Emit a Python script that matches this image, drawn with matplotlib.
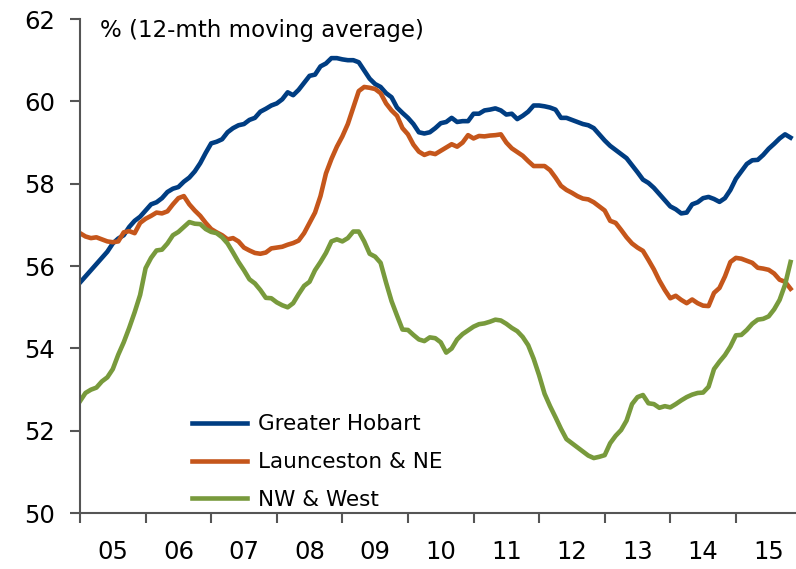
import numpy as np
import matplotlib
matplotlib.use("Agg")
import matplotlib.pyplot as plt

plt.rcParams['font.family'] = ['DejaVu Sans']

# monthly, Jan 2005 .. Nov 2015 (12-mth moving average, %)
years = ['05', '06', '07', '08', '09', '10', '11', '12', '13', '14', '15']

hobart = [55.6, 55.75, 55.9, 56.05, 56.2, 56.35, 56.55, 56.67, 56.75, 56.95, 57.1, 57.2,
          57.35, 57.5, 57.55, 57.65, 57.8, 57.88, 57.92, 58.05, 58.15, 58.3, 58.5, 58.75,
          58.98, 59.02, 59.08, 59.25, 59.35, 59.42, 59.45, 59.55, 59.6, 59.75, 59.82, 59.9,
          59.95, 60.05, 60.22, 60.15, 60.28, 60.45, 60.62, 60.65, 60.85, 60.92, 61.05, 61.05,
          61.02, 61.0, 61.0, 60.95, 60.75, 60.55, 60.42, 60.35, 60.2, 60.1, 59.85, 59.72,
          59.6, 59.45, 59.25, 59.22, 59.25, 59.35, 59.47, 59.5, 59.6, 59.5, 59.52, 59.52,
          59.7, 59.7, 59.78, 59.8, 59.83, 59.78, 59.68, 59.7, 59.57, 59.65, 59.75, 59.9,
          59.9, 59.88, 59.85, 59.8, 59.6, 59.6, 59.55, 59.5, 59.45, 59.42, 59.35, 59.2,
          59.05, 58.92, 58.82, 58.72, 58.62, 58.45, 58.28, 58.1, 58.02, 57.9, 57.75, 57.6,
          57.45, 57.38, 57.28, 57.3, 57.5, 57.55, 57.65, 57.68, 57.63, 57.56, 57.65, 57.85,
          58.12, 58.3, 58.48, 58.57, 58.58, 58.7, 58.85, 58.97, 59.1, 59.2, 59.12]

launceston = [56.8, 56.72, 56.68, 56.7, 56.65, 56.6, 56.58, 56.6, 56.82, 56.85, 56.8, 57.05,
              57.15, 57.22, 57.3, 57.28, 57.33, 57.5, 57.65, 57.7, 57.5, 57.35, 57.22, 57.05,
              56.9, 56.82, 56.75, 56.65, 56.68, 56.6, 56.45, 56.38, 56.32, 56.3, 56.33, 56.43,
              56.45, 56.47, 56.52, 56.56, 56.62, 56.8, 57.05, 57.3, 57.7, 58.25, 58.6, 58.9,
              59.15, 59.45, 59.85, 60.25, 60.35, 60.33, 60.3, 60.2, 59.95, 59.78, 59.65, 59.35,
              59.2, 58.95, 58.78, 58.7, 58.75, 58.72, 58.8, 58.88, 58.96, 58.9, 59.0, 59.18,
              59.1, 59.16, 59.15, 59.17, 59.18, 59.2, 59.0, 58.86, 58.77, 58.68, 58.55, 58.43,
              58.43, 58.43, 58.33, 58.15, 57.95, 57.85, 57.78, 57.7, 57.64, 57.62, 57.55, 57.45,
              57.35, 57.1, 57.05, 56.88, 56.7, 56.55, 56.45, 56.37, 56.15, 55.92, 55.65, 55.42,
              55.22, 55.28, 55.18, 55.1, 55.19, 55.1, 55.04, 55.03, 55.35, 55.47, 55.75, 56.1,
              56.2, 56.18, 56.13, 56.08, 55.96, 55.94, 55.91, 55.82, 55.67, 55.62, 55.45]

nw_west = [52.72, 52.92, 53.0, 53.05, 53.2, 53.3, 53.5, 53.85, 54.15, 54.5, 54.88, 55.3,
           55.95, 56.2, 56.38, 56.4, 56.55, 56.75, 56.83, 56.95, 57.07, 57.03, 57.02, 56.9,
           56.83, 56.8, 56.7, 56.55, 56.33, 56.1, 55.9, 55.68, 55.58, 55.42, 55.23, 55.22,
           55.12, 55.05, 55.0, 55.1, 55.32, 55.52, 55.62, 55.9, 56.1, 56.32, 56.6, 56.65,
           56.6, 56.68, 56.84, 56.84, 56.6, 56.3, 56.23, 56.08, 55.6, 55.15, 54.8, 54.46,
           54.45, 54.33, 54.22, 54.18, 54.27, 54.25, 54.15, 53.9, 54.0, 54.22, 54.35, 54.44,
           54.53, 54.59, 54.61, 54.65, 54.7, 54.68, 54.6, 54.5, 54.42, 54.28, 54.08, 53.75,
           53.35, 52.9, 52.6, 52.33, 52.05, 51.8, 51.7, 51.6, 51.5, 51.4, 51.34, 51.37,
           51.41, 51.7, 51.88, 52.02, 52.25, 52.65, 52.82, 52.87, 52.67, 52.65, 52.56, 52.6,
           52.57, 52.65, 52.74, 52.82, 52.88, 52.92, 52.93, 53.07, 53.5, 53.68, 53.84, 54.05,
           54.32, 54.33, 54.45, 54.6, 54.7, 54.72, 54.78, 54.95, 55.18, 55.55, 56.1]

months = np.arange(len(hobart))

fig = plt.figure(figsize=(7.96, 5.69), dpi=100)
ax = fig.add_axes([0.1005, 0.098, 0.8995, 0.8686])

ax.plot(months, hobart, color='#003D82', lw=3.3, label='Greater Hobart')
ax.plot(months, launceston, color='#C5561B', lw=3.3, label='Launceston & NE')
ax.plot(months, nw_west, color='#789A3C', lw=3.3, label='NW & West')

ax.set_xlim(0, 131)
ax.set_ylim(50, 62)
ax.set_yticks(range(50, 63, 2))

# year boundaries as tick marks, year labels centred between them
ax.set_xticks(np.arange(0, 121, 12))
ax.set_xticklabels([])
ax.set_xticks(np.arange(6, 127, 12), minor=True)
ax.set_xticklabels(years, minor=True)
ax.tick_params(axis='x', which='major', direction='out', length=7, width=1.5, color='#555555')
ax.tick_params(axis='x', which='minor', length=0, pad=19, labelsize=17.5)
ax.tick_params(axis='y', direction='out', length=7, width=1.5, color='#555555', pad=11, labelsize=17.5)

for s in ['top', 'right']:
    ax.spines[s].set_visible(False)
for s in ['left', 'bottom']:
    ax.spines[s].set_color('#555555')
    ax.spines[s].set_linewidth(1.5)

ax.text(3.7, 61.72, '% (12-mth moving average)', fontsize=16.5, va='center', ha='left')

fig.legend(loc='upper left', bbox_to_anchor=(0.2412, 0.272), frameon=False,
           fontsize=15.5, handlelength=2.55, handletextpad=0.5, labelspacing=0.83,
           borderpad=0, borderaxespad=0)

fig.savefig('out.png', dpi=100)
